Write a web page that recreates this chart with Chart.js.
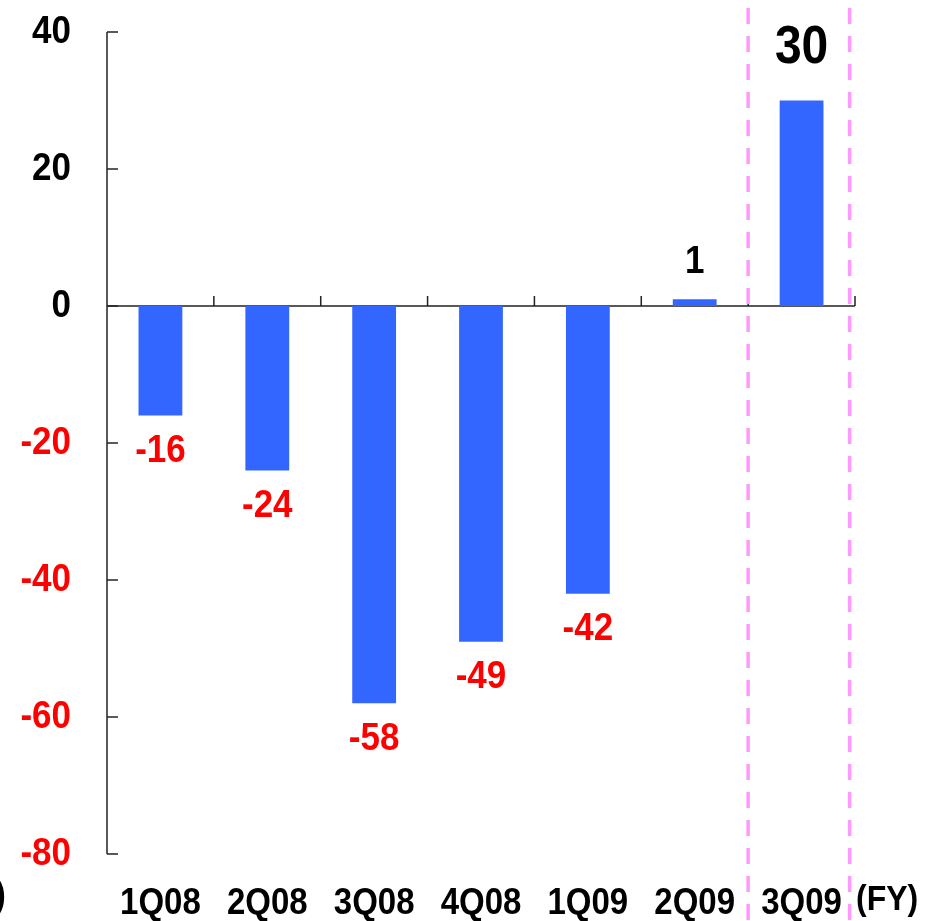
<!DOCTYPE html>
<html>
<head>
<meta charset="utf-8">
<script src="https://cdn.jsdelivr.net/npm/chart.js@4.4.1/dist/chart.umd.min.js"></script>
<style>
  html, body { margin: 0; padding: 0; background: #ffffff; }
  #wrap { width: 925px; height: 921px; position: relative; }
</style>
</head>
<body>
<div id="wrap"><canvas id="c" width="925" height="921"></canvas></div>
<script>
// Quarterly results (FY)
const quarters = ['1Q08', '2Q08', '3Q08', '4Q08', '1Q09', '2Q09', '3Q09'];
const results = [-16, -24, -58, -49, -42, 1, 30];
const yTicks = [40, 20, 0, -20, -40, -60, -80];

const FONT = '"Liberation Sans", Arial, sans-serif';
const BAR = '#3366FF';
const RED = '#FF0000';
const INK = '#000000';
const AXIS = '#222222';
const PINK = '#FF99FF';

// Text with a slightly tall face, centred vertically on y
function tallText(ctx, text, x, y, size, color, align) {
  ctx.save();
  ctx.font = 'bold ' + size + 'px ' + FONT;
  ctx.fillStyle = color;
  ctx.textAlign = align;
  ctx.textBaseline = 'middle';
  ctx.translate(x, y);
  ctx.scale(1, 1.1);
  ctx.fillText(text, 0, 0);
  ctx.restore();
}

// Axes, ticks, labels and divider lines drawn on top of the library's scales
const decorations = {
  id: 'decorations',
  beforeDatasetsDraw(chart) {
    const { ctx, chartArea: a } = chart;
    const x = chart.scales.x, y = chart.scales.y;
    const y0 = y.getPixelForValue(0);
    ctx.save();
    ctx.strokeStyle = AXIS;
    ctx.lineWidth = 1.5;
    // y axis line
    ctx.beginPath();
    ctx.moveTo(a.left, y.getPixelForValue(40));
    ctx.lineTo(a.left, y.getPixelForValue(-80));
    ctx.stroke();
    // inward y ticks
    yTicks.forEach(v => {
      const py = y.getPixelForValue(v);
      ctx.beginPath();
      ctx.moveTo(a.left, py);
      ctx.lineTo(a.left + 11, py);
      ctx.stroke();
    });
    // x axis at zero
    ctx.beginPath();
    ctx.moveTo(a.left, y0);
    ctx.lineTo(a.right, y0);
    ctx.stroke();
    // category boundary ticks pointing up
    for (let i = 0; i < quarters.length; i++) {
      const px = x.getPixelForValue(i + 0.5);
      ctx.beginPath();
      ctx.moveTo(px, y0);
      ctx.lineTo(px, y0 - 10);
      ctx.stroke();
    }
    ctx.restore();
  },
  afterDatasetsDraw(chart) {
    const { ctx } = chart;
    const x = chart.scales.x, y = chart.scales.y;
    // y tick labels
    yTicks.forEach(v => {
      tallText(ctx, String(v), 71, y.getPixelForValue(v), 35, v < 0 ? RED : INK, 'right');
    });
    // x category labels
    quarters.forEach((q, i) => {
      tallText(ctx, q, x.getPixelForValue(i), 904, 33, INK, 'center');
    });
    tallText(ctx, '(FY)', 856, 900, 32, INK, 'left');
    tallText(ctx, ')', 6, 896, 35, INK, 'right');
    // value labels
    results.forEach((v, i) => {
      const px = x.getPixelForValue(i);
      const py = y.getPixelForValue(v);
      if (v < 0) {
        tallText(ctx, String(v), px, py + 36, 35, RED, 'center');
      } else if (i === results.length - 1) {
        tallText(ctx, String(v), px, py - 52, 48, INK, 'center');
      } else {
        tallText(ctx, String(v), px, py - 37, 35, INK, 'center');
      }
    });
    // dashed dividers around the latest quarter
    ctx.save();
    ctx.strokeStyle = PINK;
    ctx.lineWidth = 3.5;
    ctx.setLineDash([16, 12]);
    [5.5, 6.45].forEach(v => {
      const px = x.getPixelForValue(v);
      ctx.beginPath();
      ctx.moveTo(px, 8);
      ctx.lineTo(px, 921);
      ctx.stroke();
    });
    ctx.restore();
  }
};

new Chart(document.getElementById('c'), {
  type: 'bar',
  data: {
    labels: quarters,
    datasets: [{
      data: results,
      backgroundColor: BAR,
      borderWidth: 0,
      barPercentage: 0.41,
      categoryPercentage: 1.0
    }]
  },
  options: {
    responsive: false,
    animation: false,
    layout: { padding: { left: 107, right: 70, top: 32, bottom: 67 } },
    plugins: { legend: { display: false }, tooltip: { enabled: false } },
    scales: {
      x: { display: false, offset: true },
      y: { display: false, min: -80, max: 40 }
    }
  },
  plugins: [decorations]
});
</script>
</body>
</html>
